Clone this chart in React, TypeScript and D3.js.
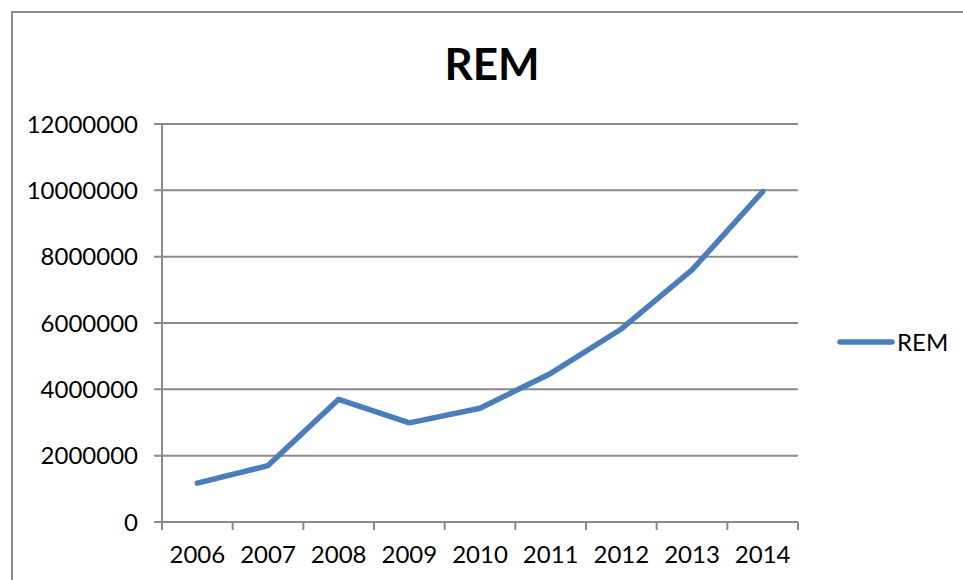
import React from "react";
import * as d3 from "d3";

const categories = ["2006", "2007", "2008", "2009", "2010", "2011", "2012", "2013", "2014"];
const remValues = [1170000, 1700000, 3700000, 2990000, 3430000, 4480000, 5820000, 7600000, 9960000];
const yTicks = [0, 2000000, 4000000, 6000000, 8000000, 10000000, 12000000];
const seriesName = "REM";
const title = "REM";

const W = 963;
const H = 580;
const FONT = "Lato, 'Open Sans', sans-serif";

export default function App() {
  const left = 162, right = 798, top = 124, bottom = 522;
  const x = d3.scaleBand<string>().domain(categories).range([left, right]).paddingInner(0).paddingOuter(0);
  const y = d3.scaleLinear().domain([0, 12000000]).range([bottom, top]);
  const line = d3
    .line<number>()
    .x((_, i) => (x(categories[i]) as number) + x.bandwidth() / 2)
    .y((d) => y(d));
  const grid = "#8a8a8a";
  const blue = "#4a7ebb";
  const tickEdges = [...categories.map((c) => x(c) as number), right];

  return (
    <svg
      width={W}
      height={H}
      style={{ position: "absolute", left: 0, top: 0, background: "#fff" }}
    >
      <rect x={12} y={12} width={W + 20} height={H + 20} fill="#fff" stroke="#8c8c8c" strokeWidth={2} />
      <text x={492} y={80} textAnchor="middle" fontFamily={FONT} fontWeight={700} fontSize={44} fill="#000">
        {title}
      </text>
      {yTicks.map((t) => (
        <g key={t}>
          <line x1={left - 8} x2={right} y1={y(t)} y2={y(t)} stroke={grid} strokeWidth={2} />
          <text
            x={138}
            y={y(t)}
            dy="0.36em"
            textAnchor="end"
            fontFamily={FONT}
            fontSize={24}
            fill="#000"
          >
            {t}
          </text>
        </g>
      ))}
      <line x1={left} x2={left} y1={top} y2={bottom} stroke={grid} strokeWidth={2} />
      {tickEdges.map((e, i) => (
        <line key={i} x1={e} x2={e} y1={bottom} y2={bottom + 8} stroke={grid} strokeWidth={2} />
      ))}
      {categories.map((c) => (
        <text
          key={c}
          x={(x(c) as number) + x.bandwidth() / 2}
          y={563}
          textAnchor="middle"
          fontFamily={FONT}
          fontSize={24}
          fill="#000"
        >
          {c}
        </text>
      ))}
      <path
        d={line(remValues) || ""}
        fill="none"
        stroke={blue}
        strokeWidth={5.5}
        strokeLinejoin="round"
        strokeLinecap="round"
      />
      <line x1={840} x2={892} y1={342} y2={342} stroke={blue} strokeWidth={5.5} strokeLinecap="round" />
      <text x={897} y={342} dy="0.36em" fontFamily={FONT} fontSize={24} fill="#000">
        {seriesName}
      </text>
    </svg>
  );
}
